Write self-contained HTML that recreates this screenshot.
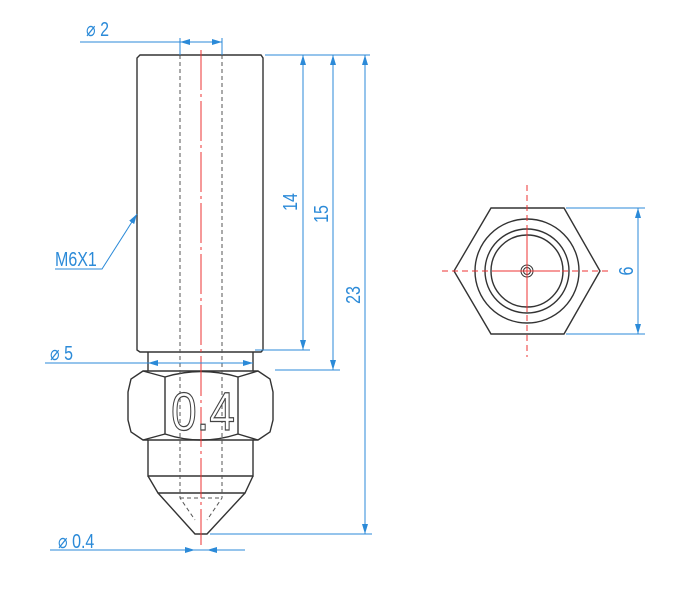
<!DOCTYPE html>
<html><head><style>body{margin:0;background:#fff}svg{display:block}</style></head><body>
<svg width="687" height="602" viewBox="0 0 687 602" xmlns="http://www.w3.org/2000/svg">
<defs>
<marker id="a" markerWidth="10" markerHeight="6" refX="10" refY="3" orient="auto-start-reverse" markerUnits="userSpaceOnUse"><path d="M0,0 L10,3 L0,6z" fill="#2b8ad8"/></marker>
</defs>
<g fill="none" stroke="#333" stroke-width="1.4">
<path d="M140,55 L261,55 L263,58 L263,350 L261,352 L140,352 L137,350 L137,58z"/>
<path d="M148,352 L148,371 M253,352 L253,371"/>
<path d="M143,371 L258,371 L270,379 L273,392 L273,420 L270,432 L258,440 L143,440 L131,432 L128,420 L128,392 L131,379z"/>
<path d="M165,377 Q201,366 238,377 L238,434 Q201,446 165,434z"/>
<path d="M143,371 L165,377 M258,371 L238,377 M143,440 L165,434 M258,440 L238,434"/>
<path d="M148,440 L148,476 L253,476 L253,440"/>
<path d="M148,476 L158,493 L245,493 L253,476"/>
<path d="M158,493 L195,534 L207,534 L245,493"/>
</g>
<g fill="none" stroke="#555" stroke-width="1" stroke-dasharray="4,3">
<path d="M180,55 L180,498 L195,520 M222,55 L222,498 L207,520 M180,498 L222,498"/>
</g>
<path d="M201,50 L201,545" stroke="#e33" stroke-width="1" stroke-dasharray="40,4,3,4"/>
<text transform="translate(203,430) scale(0.85,1)" font-family="Liberation Sans, sans-serif" font-size="54" text-anchor="middle" fill="#fff" stroke="#444" stroke-width="1.2">0.4</text>
<g stroke="#2b8ad8" stroke-width="1" fill="none">
<path d="M180,38 L180,55 M222,38 L222,55"/>
<path d="M80,42 L222,42"/>
<path d="M180,42 L222,42" marker-start="url(#a)" marker-end="url(#a)"/>
<path d="M265,55 L370,55 M255,350 L310,350 M275,370 L340,370 M210,534 L372,534"/>
<path d="M303,55 L303,350" marker-start="url(#a)" marker-end="url(#a)"/>
<path d="M333,55 L333,370" marker-start="url(#a)" marker-end="url(#a)"/>
<path d="M365,55 L365,534" marker-start="url(#a)" marker-end="url(#a)"/>
<path d="M45,363 L148,363"/>
<path d="M148,363 L253,363" marker-start="url(#a)" marker-end="url(#a)"/>
<path d="M50,550 L245,550"/>
<path d="M180,550 L195,550" marker-end="url(#a)"/>
<path d="M222,550 L207,550" marker-end="url(#a)"/>
<path d="M55,269 L102,269 L137,214" marker-end="url(#a)"/>
<path d="M566,208 L645,208 M566,334 L645,334"/>
<path d="M638,208 L638,334" marker-start="url(#a)" marker-end="url(#a)"/>
</g>
<g fill="#2b8ad8" font-family="Liberation Sans, sans-serif" font-size="20">
<text transform="translate(86,36) scale(0.8,1)">⌀ 2</text>
<text transform="translate(50,360) scale(0.8,1)">⌀ 5</text>
<text transform="translate(58,548) scale(0.8,1)">⌀ 0.4</text>
<text transform="translate(55,266) scale(0.8,1)">M6X1</text>
<text transform="translate(297,202) rotate(-90) scale(0.8,1)" text-anchor="middle">14</text>
<text transform="translate(328,214) rotate(-90) scale(0.8,1)" text-anchor="middle">15</text>
<text transform="translate(360,295) rotate(-90) scale(0.8,1)" text-anchor="middle">23</text>
<text transform="translate(633,271) rotate(-90) scale(0.8,1)" text-anchor="middle">6</text>
</g>
<g fill="none" stroke="#333" stroke-width="1.4">
<path d="M491,208 L564,208 L600,271 L564,334 L491,334 L454,271z"/>
<circle cx="527" cy="271" r="52"/>
<circle cx="527" cy="271" r="42"/>
<circle cx="527" cy="271" r="36"/>
<circle cx="527" cy="271" r="6" stroke-width="1"/>
<circle cx="527" cy="271" r="3.5" stroke-width="1"/>
</g>
<g stroke="#e33" stroke-width="1" fill="none">
<path d="M495,271 L560,271 M527,230 L527,312"/>
<path d="M442,271 L612,271 M527,185 L527,357" stroke-dasharray="6,4"/>
</g>
</svg>
</body></html>
